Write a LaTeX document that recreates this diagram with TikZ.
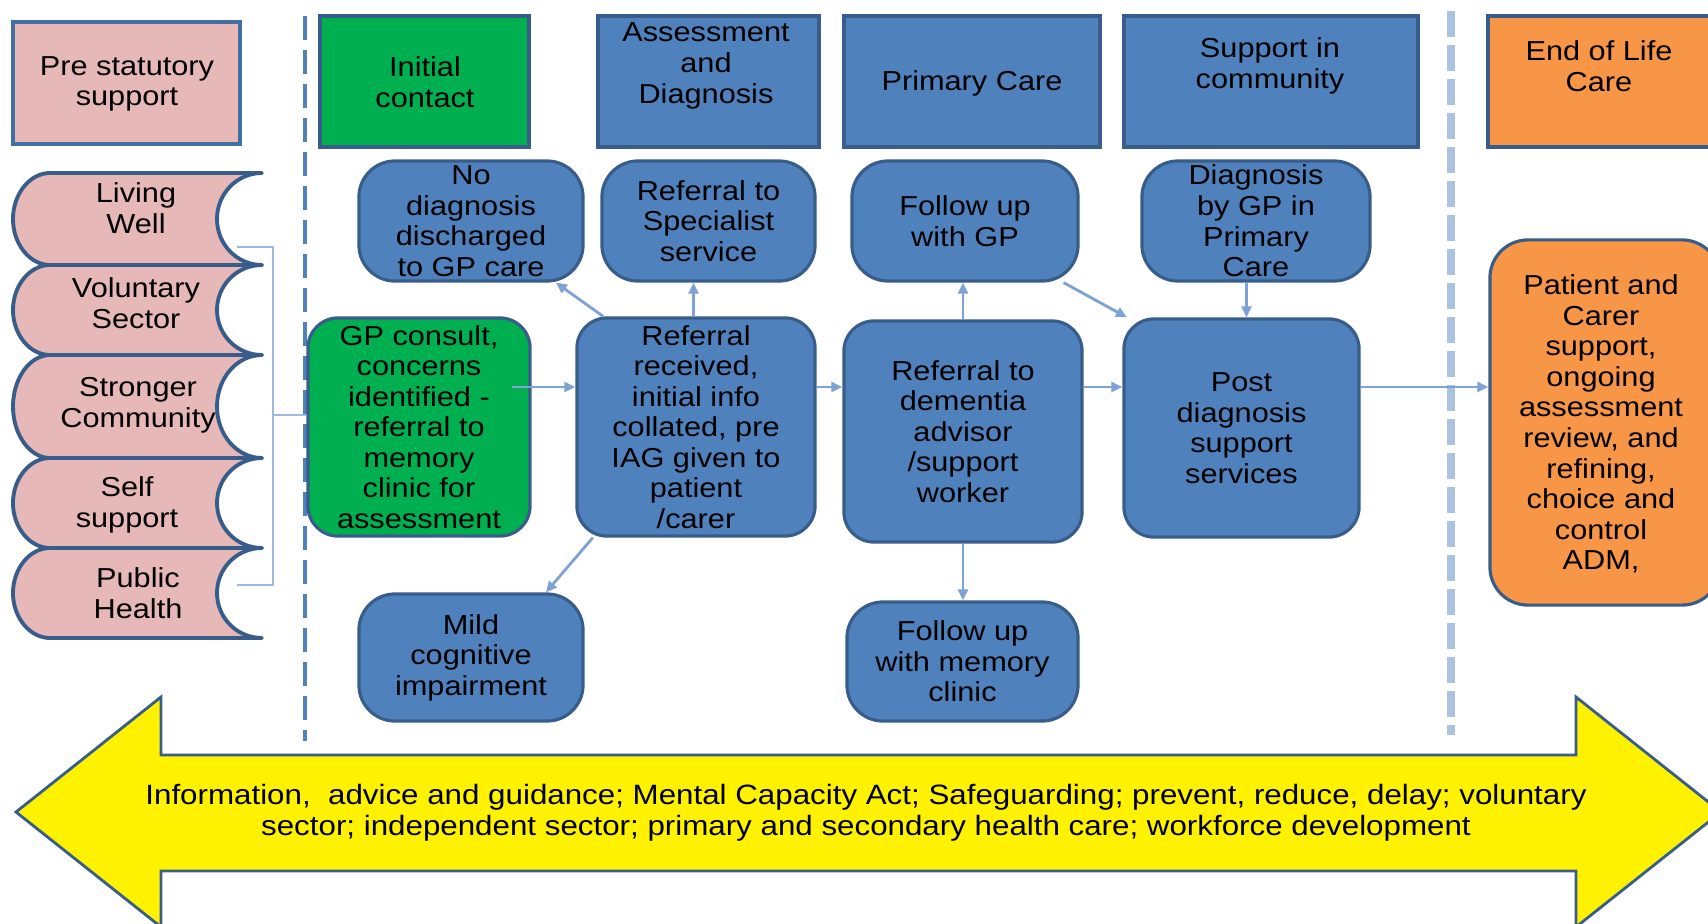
\documentclass[tikz,border=0pt]{standalone}
\usepackage{fontspec}
\setmainfont{Liberation Sans}[FakeStretch=1.12]
\usetikzlibrary{arrows.meta}
\definecolor{bfill}{HTML}{4F81BD}
\definecolor{bline}{HTML}{385D8A}
\definecolor{pinkf}{HTML}{E6B9B8}
\definecolor{greenf}{HTML}{00B050}
\definecolor{orangef}{HTML}{F79646}
\definecolor{arrc}{HTML}{7DA2D3}
\definecolor{lightdash}{HTML}{A9C3E1}
\definecolor{brkc}{HTML}{9DB9DF}
\begin{document}
\begin{tikzpicture}[x=0.01cm,y=-0.01cm,font=\fontsize{7.8}{8.7}\selectfont,
  hdr/.style={draw=bline,line width=1.1pt,inner sep=0pt},
  rbox/.style={draw=bline,fill=bfill,line width=0.9pt,rounded corners=0.3cm,inner sep=0pt,align=center},
  txt/.style={align=center,inner sep=0pt,text=black},
  scroll/.style={draw=bline,fill=pinkf,line width=1.1pt,line join=round},
  arr/.style={draw=arrc,line width=0.8pt,-{Triangle[length=0.11cm,width=0.1cm]}},
  brk/.style={draw=brkc,line width=0.7pt},
  dashA/.style={draw=bfill,line width=1.1pt,dash pattern=on 0.24cm off 0.1cm},
  dashB/.style={draw=lightdash,line width=2pt,dash pattern=on 0.26cm off 0.08cm},
  yarrow/.style={draw=bline,fill=yellow,line width=0.8pt,line join=miter}]
\useasboundingbox (0,0) rectangle (1708,924);
\clip (0,0) rectangle (1708,924);

% dashed separators
\draw[dashA] (305,16) -- (305,741);
\draw[dashB] (1451,11) -- (1451,735);

% header boxes
\node[hdr,fill=pinkf,draw=bfill!85!black,minimum width=2.27cm,minimum height=1.22cm] (hpre) at (126.5,83) {};
\node[txt] (tpre) at (127,84) {Pre statutory\\support};
\node[hdr,fill=greenf,minimum width=2.09cm,minimum height=1.31cm] (hinit) at (424.5,81.5) {};
\node[txt] (tinit) at (425,82) {Initial\\contact};
\node[hdr,fill=bfill,minimum width=2.21cm,minimum height=1.31cm] (hass) at (708.5,81.5) {};
\node[txt] (tass) at (706,66) {Assessment\\and\\Diagnosis};
\node[hdr,fill=bfill,minimum width=2.56cm,minimum height=1.31cm] (hprim) at (972,81.5) {};
\node[txt] (tprim) at (972,83) {Primary Care};
\node[hdr,fill=bfill,minimum width=2.94cm,minimum height=1.31cm] (hsup) at (1271,81.5) {};
\node[txt] (tsup) at (1270,66) {Support in\\community};
\node[hdr,fill=orangef,minimum width=2.26cm,minimum height=1.31cm] (heol) at (1601,81.5) {};
\node[txt] (teol) at (1599,66) {End of Life\\Care};

% left scroll shapes
\foreach \t/\b in {173/265,265/355,355/458,458/548,548/638}{
  \pgfmathsetmacro\m{(\t+\b)/2}
  \pgfmathsetmacro\k{0.552*(\b-\t)/2}
  \draw[scroll] (50,\t) -- (262,\t) .. controls (237,\t) and (217,\m-\k) .. (217,\m)
     .. controls (217,\m+\k) and (237,\b) .. (262,\b) -- (50,\b)
     .. controls (30,\b) and (13,\m+\k) .. (13,\m) .. controls (13,\m-\k) and (30,\t) .. (50,\t) -- cycle;
}
\node[txt] (l1) at (136,208) {Living\\Well};
\node[txt] (l2) at (136,303) {Voluntary\\Sector};
\node[txt] (l3) at (138,405) {Stronger\\Community};
\node[txt] (l4) at (127,505) {Self\\support};
\node[txt] (l5) at (138,593) {Public\\Health};

% process boxes
\node[rbox,minimum width=2.24cm,minimum height=1.2cm,rounded corners=0.36cm] (nodiag) at (471,221) {No\\diagnosis\\discharged\\to GP care};
\node[rbox,minimum width=2.13cm,minimum height=1.2cm,rounded corners=0.36cm] (refspec) at (708.5,221) {Referral to\\Specialist\\service};
\node[rbox,minimum width=2.26cm,minimum height=1.2cm,rounded corners=0.36cm] (fugp) at (965,221) {Follow up\\with GP};
\node[rbox,minimum width=2.28cm,minimum height=1.2cm,rounded corners=0.36cm] (diaggp) at (1256,221) {Diagnosis\\by GP in\\Primary\\Care};

\node[rbox,fill=greenf,minimum width=2.22cm,minimum height=2.18cm] (gpc) at (419,427) {GP consult,\\concerns\\identified -\\referral to\\memory\\clinic for\\assessment};
\node[rbox,minimum width=2.38cm,minimum height=2.18cm] (refrec) at (696,427) {Referral\\received,\\initial info\\collated, pre\\IAG given to\\patient\\/carer};
\node[rbox,minimum width=2.38cm,minimum height=2.21cm] (refdem) at (963,431.5) {Referral to\\dementia\\advisor\\/support\\worker};
\node[rbox,minimum width=2.35cm,minimum height=2.18cm] (post) at (1241.5,428) {Post\\diagnosis\\support\\services};
\node[rbox,fill=orangef,minimum width=2.30cm,minimum height=3.65cm,rounded corners=0.38cm,text width=2.3cm] (pcs) at (1605,422.5) {};
\node[txt] (tpcs) at (1601,424) {Patient and\\Carer\\support,\\ongoing\\assessment\\review, and\\refining,\\choice and\\control\\ADM,};

\node[rbox,minimum width=2.24cm,minimum height=1.27cm,rounded corners=0.36cm] (mild) at (471,657.5) {Mild\\cognitive\\impairment};
\node[rbox,minimum width=2.31cm,minimum height=1.19cm,rounded corners=0.36cm] (fumem) at (962.5,661.5) {Follow up\\with memory\\clinic};

% bracket
\coordinate (bt) at (237,247);
\coordinate (bb) at (237,585);
\coordinate (bm) at (273,415);
\draw[brk] (bt) -- (273,247) -- (273,585) -- (bb);
\draw[brk] (bm) -- (gpc.west |- bm);

% connectors
\coordinate (row) at (0,387);
\draw[arr] ([xshift=-0.2cm]gpc.east |- row) -- (refrec.west |- row);
\draw[arr] (refrec.east |- row) -- (refdem.west |- row);
\draw[arr] (refdem.east |- row) -- (post.west |- row);
\draw[arr] (post.east |- row) -- (pcs.west |- row);
\draw[arr] (refrec.north -| refspec.south) ++(-15,0) coordinate (rs1) -- (rs1 |- refspec.south);
\draw[arr] (refrec.130) -- (nodiag.-36);
\draw[arr] (refrec.227) -- (mild.41);
\draw[arr] (refdem.north) -- (refdem.north |- fugp.south);
\draw[arr] (refdem.south) -- (refdem.south |- fumem.north);
\draw[arr] (fugp.-32) -- (post.136);
\draw[arr] (diaggp.south -| post.north) ++(5,0) coordinate (dg1) -- (dg1 |- post.north);

% big yellow double arrow
\draw[yarrow] (16,812) -- (161,697) -- (161,755) -- (1576,755) -- (1576,697) -- (1721,812)
  -- (1576,927) -- (1576,871) -- (161,871) -- (161,927) -- cycle;
\node[txt,font=\fontsize{7.95}{8.7}\selectfont] (ytext) at (866,812.5) {Information,\ \ advice and guidance; Mental Capacity Act; Safeguarding; prevent, reduce, delay; voluntary\\sector; independent sector; primary and secondary health care; workforce development};
\end{tikzpicture}
\end{document}
